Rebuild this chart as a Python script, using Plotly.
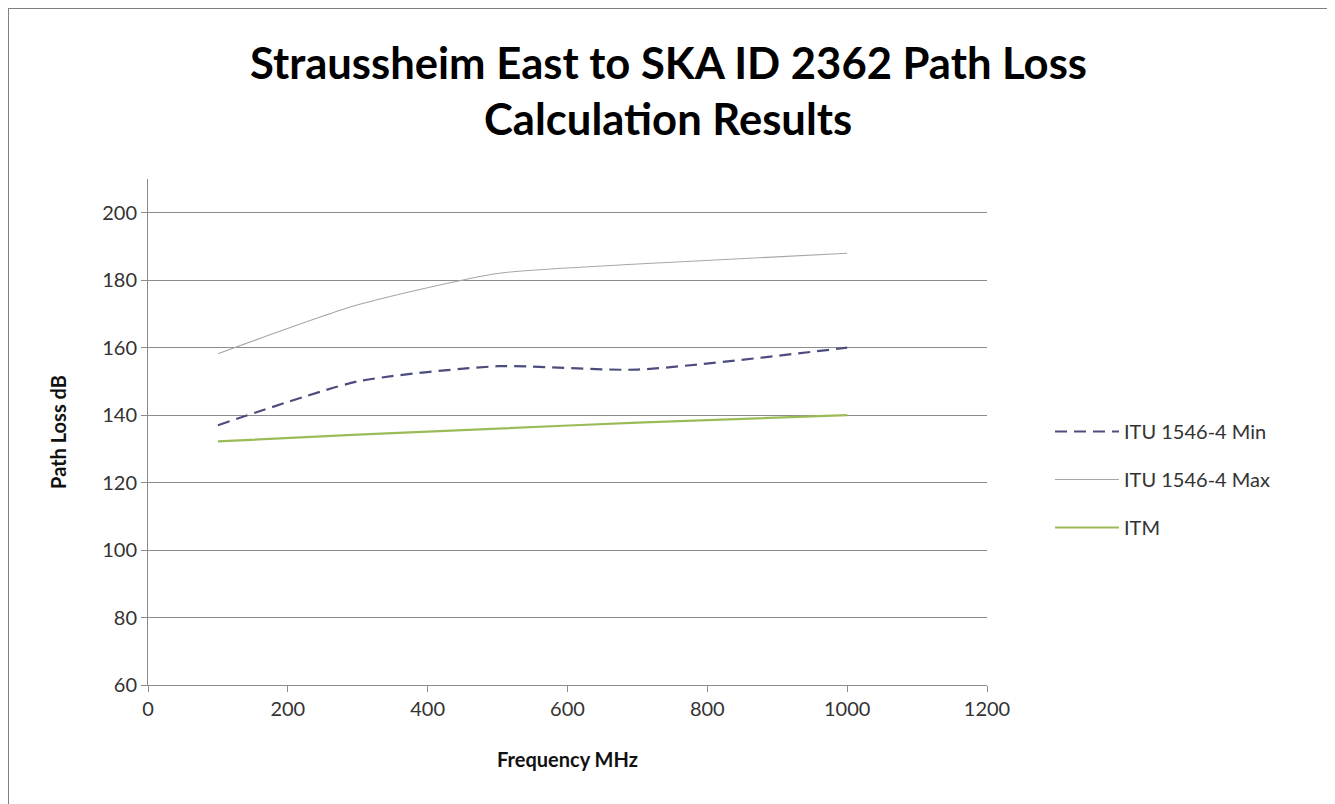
import plotly.graph_objects as go

freq = [100, 300, 500, 700, 1000]
itu_min = [137, 150, 154.5, 153.5, 160]
itu_max = [158.2, 172.7, 182, 184.8, 188]
itm = [132.2, 134.2, 136, 137.8, 140]

OFF = 8  # page body margin
W, H = 1335 - OFF, 804 - OFF
L, R, T, B = 148 - OFF, 987 - OFF, 179 - OFF, 685 - OFF

fig = go.Figure()
fig.add_trace(go.Scatter(x=freq, y=itu_min, mode="lines", name="ITU 1546-4 Min",
                         line=dict(color="#4d4d7d", width=2.2, dash="12px,7px", shape="spline", smoothing=0.6),
                         legendgroup="a"))
fig.add_trace(go.Scatter(x=freq, y=itu_max, mode="lines", name="ITU 1546-4 Max",
                         line=dict(color="#a6a6a6", width=1.1, shape="spline", smoothing=0.6),
                         legendgroup="b"))
fig.add_trace(go.Scatter(x=freq, y=itm, mode="lines", name="ITM",
                         line=dict(color="#9bbb59", width=2.2, shape="spline", smoothing=0.6),
                         legendgroup="c"))

font = "Lato, 'Open Sans', sans-serif"

def px_x(p):
    return (p - OFF - L) / (R - L)

def px_y(p):
    return (B - (p - OFF)) / (B - T)

fig.update_layout(
    width=W, height=H,
    margin=dict(l=L, r=W - R, t=T, b=H - B),
    paper_bgcolor="white", plot_bgcolor="white",
    font=dict(family=font, size=20, color="#333333"),
    showlegend=True,
    legend=dict(x=px_x(1050), y=px_y(412), xanchor="left", yanchor="top",
                font=dict(size=20, color="#333333"), tracegroupgap=19,
                itemwidth=64,
                bgcolor="rgba(0,0,0,0)"),
    xaxis=dict(range=[0, 1200], tick0=0, dtick=200, showgrid=False,
               showline=True, linecolor="#8c8c8c", linewidth=1,
               ticks="outside", ticklen=6, tickcolor="#8c8c8c",
               tickfont=dict(size=20, color="#333333"), zeroline=False,
               title=dict(text="<b>Frequency MHz</b>", font=dict(size=20, color="#111111"), standoff=33)),
    yaxis=dict(range=[60, 210], tick0=60, dtick=20, showgrid=True,
               gridcolor="#8c8c8c", gridwidth=1,
               showline=True, linecolor="#8c8c8c", linewidth=1,
               ticks="outside", ticklen=6, tickcolor="#8c8c8c",
               tickfont=dict(size=20, color="#333333"), zeroline=False,
               title=dict(text="<b>Path Loss dB</b>", font=dict(size=20, color="#111111"), standoff=30)),
    annotations=[
        dict(text="<b>Straussheim East to SKA ID 2362 Path Loss</b>", x=px_x(668), y=px_y(62),
             xref="paper", yref="paper", showarrow=False, xanchor="center", yanchor="middle",
             font=dict(size=43.6, color="#000000", family=font)),
        dict(text="<b>Calculation Results</b>", x=px_x(668), y=px_y(118),
             xref="paper", yref="paper", showarrow=False, xanchor="center", yanchor="middle",
             font=dict(size=43.6, color="#000000", family=font)),
    ],
    shapes=[dict(type="rect", xref="paper", yref="paper",
                 x0=px_x(8), x1=px_x(1328), y0=px_y(808), y1=px_y(8),
                 line=dict(color="#7f7f7f", width=2), fillcolor="rgba(0,0,0,0)", layer="below")],
)

fig.write_html("out.html")
